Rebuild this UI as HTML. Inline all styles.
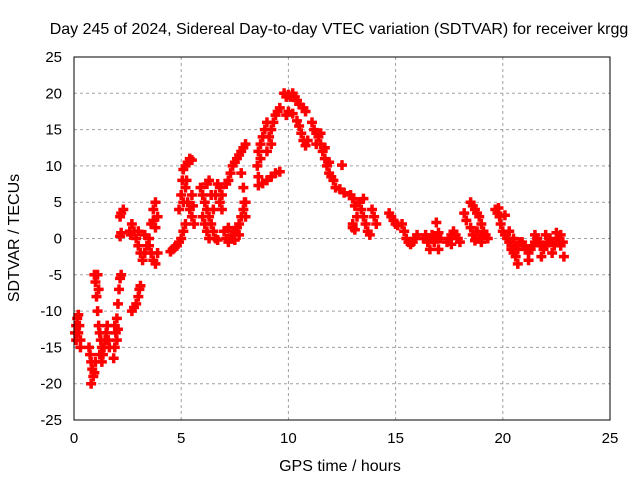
<!DOCTYPE html>
<html><head><meta charset="utf-8"><style>
html,body{margin:0;padding:0;background:#fff;}
svg{display:block;font-family:"Liberation Sans",sans-serif;}
</style></head><body>
<svg id="chart" width="640" height="480" xmlns="http://www.w3.org/2000/svg">
<rect width="640" height="480" fill="#fff"/>
<text x="339" y="34" font-size="16" text-anchor="middle">Day 245 of 2024, Sidereal Day-to-day VTEC variation (SDTVAR) for receiver krgg</text>
<text x="340" y="471" font-size="16" text-anchor="middle">GPS time / hours</text>
<text x="19" y="238" font-size="16" text-anchor="middle" transform="rotate(-90 19 238)">SDTVAR / TECUs</text>
<g id="grid"></g>
<g id="ticks"></g>
<g id="marks"></g>
<rect x="74" y="57" width="536" height="363" fill="none" stroke="#000" stroke-width="1"/>
</svg>
<script>
const xTicks = [0, 5, 10, 15, 20, 25];
const yTicks = [-25, -20, -15, -10, -5, 0, 5, 10, 15, 20, 25];
const times = [
0.05,0.1,0.15,0.2,0.25,0.3,0.3,0.1,0.2,
0.7,0.75,0.8,0.85,0.9,0.8,0.95,1.0,
0.95,1.0,1.05,1.1,1.15,1.2,1.25,1.3,1.35,1.4,1.45,1.5,1.2,1.3,1.1,1.15,
1.55,1.6,1.65,
1.85,1.9,1.95,2.0,2.05,2.1,2.15,2.2,1.9,2.0,2.05,
2.7,2.8,2.9,3.0,3.05,3.1,
2.2,2.3,2.15,2.15,2.2,
2.6,2.7,2.8,2.9,3.0,3.1,3.2,3.3,3.4,3.5,3.6,3.7,3.8,3.9,3.5,3.6,3.7,3.8,3.9,3.3,3.7,3.8,2.65,3.0,
4.5,4.6,4.7,4.8,4.9,5.0,5.1,5.2,
4.9,5.0,5.05,5.1,5.2,5.3,5.4,5.5,5.2,5.3,5.4,5.5,5.6,5.1,5.25,5.5,5.55,
5.9,6.0,6.1,6.2,6.3,6.4,6.5,6.6,6.7,6.1,6.2,6.3,6.0,6.5,6.6,6.7,6.8,6.9,6.4,6.2,6.8,6.9,6.3,
7.0,7.1,7.2,7.3,7.4,7.5,7.6,7.7,7.8,7.9,8.0,7.2,7.5,7.7,
7.1,7.2,7.3,7.4,7.5,7.6,7.7,7.8,7.9,8.0,7.8,7.9,7.95,8.0,
8.55,8.6,8.7,8.8,8.9,9.0,9.1,9.2,9.3,9.4,9.5,9.6,8.6,8.7,9.0,9.2,
8.6,8.8,9.0,9.2,9.4,9.6,
9.8,9.9,10.0,10.1,10.2,10.3,10.4,9.9,10.0,10.2,10.5,
10.4,10.5,10.7,10.8,10.6,10.7,10.8,10.9,
11.1,11.2,11.3,11.4,11.5,11.6,11.7,11.8,11.9,12.0,12.1,12.2,11.3,11.5,11.7,11.9,
12.4,12.6,12.5,
12.9,13.0,13.1,13.2,13.0,13.3,13.4,13.5,13.6,13.7,13.8,13.9,14.0,14.1,13.5,13.0,13.1,
14.7,14.8,14.9,15.0,15.1,
15.3,15.4,15.5,15.6,15.7,15.8,15.9,16.0,
16.3,16.4,16.5,16.6,16.7,16.8,16.9,17.0,17.1,16.6,17.0,16.9,
17.4,17.5,17.6,17.7,17.8,17.9,18.0,17.6,
18.2,18.3,
18.5,18.6,18.7,18.8,18.9,19.0,18.6,18.7,18.8,18.9,19.0,19.1,19.2,19.3,18.5,19.0,
19.65,19.75,19.85,19.9,20.0,19.8,20.1,
20.1,20.2,20.3,20.4,20.5,20.6,20.7,20.8,20.3,20.5,20.6,20.7,20.4,
20.9,21.0,21.1,21.2,21.3,21.4,21.5,21.6,21.7,21.8,21.9,22.0,22.1,22.2,22.3,22.4,22.5,22.6,22.7,22.8,22.85,21.2,21.5,22.0,22.5,22.7,21.8,22.3
];
const values = [
-13,-12,-11,-10.5,-12,-14,-15,-14,-13,
-15,-16,-17,-18,-19,-20,-18.5,-17,
-5,-6,-8,-10,-12,-13,-14,-15,-16,-15,-14,-13,-16,-17,-5,-7,
-12,-14,-15,
-16.5,-15,-13,-11,-9,-7,-5.5,-5,-12,-14,-12.5,
-10,-9.5,-9,-8,-7,-6.5,
3.5,4,3,0.3,0.8,
1,2,1,0,-1,-2,-3,-2,-1,0,2,4,5,3,-1,-2,-3,-3.5,-2,0.5,2.5,1.5,0.5,1,
-1.8,-1.5,-1.2,-1,-0.5,0,1,2,
4,6,8,9.5,10,10.5,11,10.8,7,5,4,3,2,5,8,6,4.5,
7,6,5,4,3,2,1,0,-0.2,2,1,0,3,4,6,7.5,7,6,6,7.5,5,4,8,
1,0,-0.5,0,0.5,1,1.5,2,3,4,5,1.5,-0.2,0.5,
7.5,8,9,10,10.5,11,11.5,12,12.5,13,9,7,5,3,
10,12,13,14,15,16,14,15,16,17,17.5,18,8.5,11,12,13,
7.3,7.6,8,8.5,9,9.2,
20,19.5,19.8,19.5,20,19.5,19,17,17.5,17.2,18.5,
16.2,15.5,18,17.5,14.5,13.5,12.8,13.5,
16,15,14.5,14,13,12,11,10,9,8.5,8,7,13,14.5,12.5,10.5,
6.8,6.3,10.1,
6,5.5,4.5,3,2,5,4,3,2,1,0.5,4,3,2,5.5,1.5,1.2,
3.5,3,2.5,2,1.8,
2,1,0,-0.5,-0.8,-0.5,0,0.5,
0,0.5,-0.5,0,0.5,-0.5,0,-1.5,0,-1.5,0.8,2.2,
-0.5,0,0.5,1,0.5,0,-0.5,-0.8,
3.5,2.5,
5,4.5,4,3.5,3,2,0.5,-0.3,1,0,0.5,1,0.5,0,1.5,-0.5,
4,3.5,3,2,1,4.2,3.2,
0.5,0,-0.5,-1,-2,-2.5,-1.5,-0.5,1,0,-1,-3.5,-1.5,
-0.5,-1,-1.5,-2,-1.5,-1,-0.5,0,-0.5,-1,-1.5,-1,-0.5,0,-0.5,-1,-0.5,0,-1,-0.5,-2.5,-3,0.5,0.5,0.8,0.5,-2.5,-2
];
const X0=74, X1=610, Y0=420, Y1=57;
const xScale = t => X0 + (t - 0) / 25 * (X1 - X0);
const yScale = v => Y0 - (v + 25) / 50 * (Y0 - Y1);
const NS = "http://www.w3.org/2000/svg";
const grid = document.getElementById('grid');
const ticks = document.getElementById('ticks');
const marks = document.getElementById('marks');
xTicks.forEach(t => {
  const x = xScale(t);
  if (t > 0 && t < 25) {
    const g = document.createElementNS(NS, 'line');
    g.setAttribute('x1', x); g.setAttribute('x2', x); g.setAttribute('y1', Y1); g.setAttribute('y2', Y0);
    g.setAttribute('stroke', '#a0a0a0'); g.setAttribute('stroke-dasharray', '3,3');
    
    
    grid.appendChild(g);
  }
  const tk = document.createElementNS(NS, 'text');
  tk.setAttribute('x', x); tk.setAttribute('y', Y0 + 23);
  tk.setAttribute('font-size', '15'); tk.setAttribute('text-anchor', 'middle');
  tk.textContent = t;
  
  
  ticks.appendChild(tk);
});
yTicks.forEach(v => {
  const y = yScale(v);
  if (v > -25 && v < 25) {
    const g = document.createElementNS(NS, 'line');
    g.setAttribute('x1', X0); g.setAttribute('x2', X1); g.setAttribute('y1', y); g.setAttribute('y2', y);
    g.setAttribute('stroke', '#a0a0a0'); g.setAttribute('stroke-dasharray', '3,3');
    
    
    grid.appendChild(g);
  }
  const tk = document.createElementNS(NS, 'text');
  tk.setAttribute('x', X0 - 12); tk.setAttribute('y', y + 5);
  tk.setAttribute('font-size', '15'); tk.setAttribute('text-anchor', 'end');
  tk.textContent = v;
  
  
  ticks.appendChild(tk);
});
times.forEach((t, i) => {
  const x = xScale(t), y = yScale(values[i]);
  const p = document.createElementNS(NS, 'path');
  p.setAttribute('d', `M${x-5},${y}H${x+5}M${x},${y-5}V${y+5}`);
  p.setAttribute('stroke', '#ff0000'); p.setAttribute('stroke-width', '3.5');
  
  
  marks.appendChild(p);
});
</script>
</body></html>
